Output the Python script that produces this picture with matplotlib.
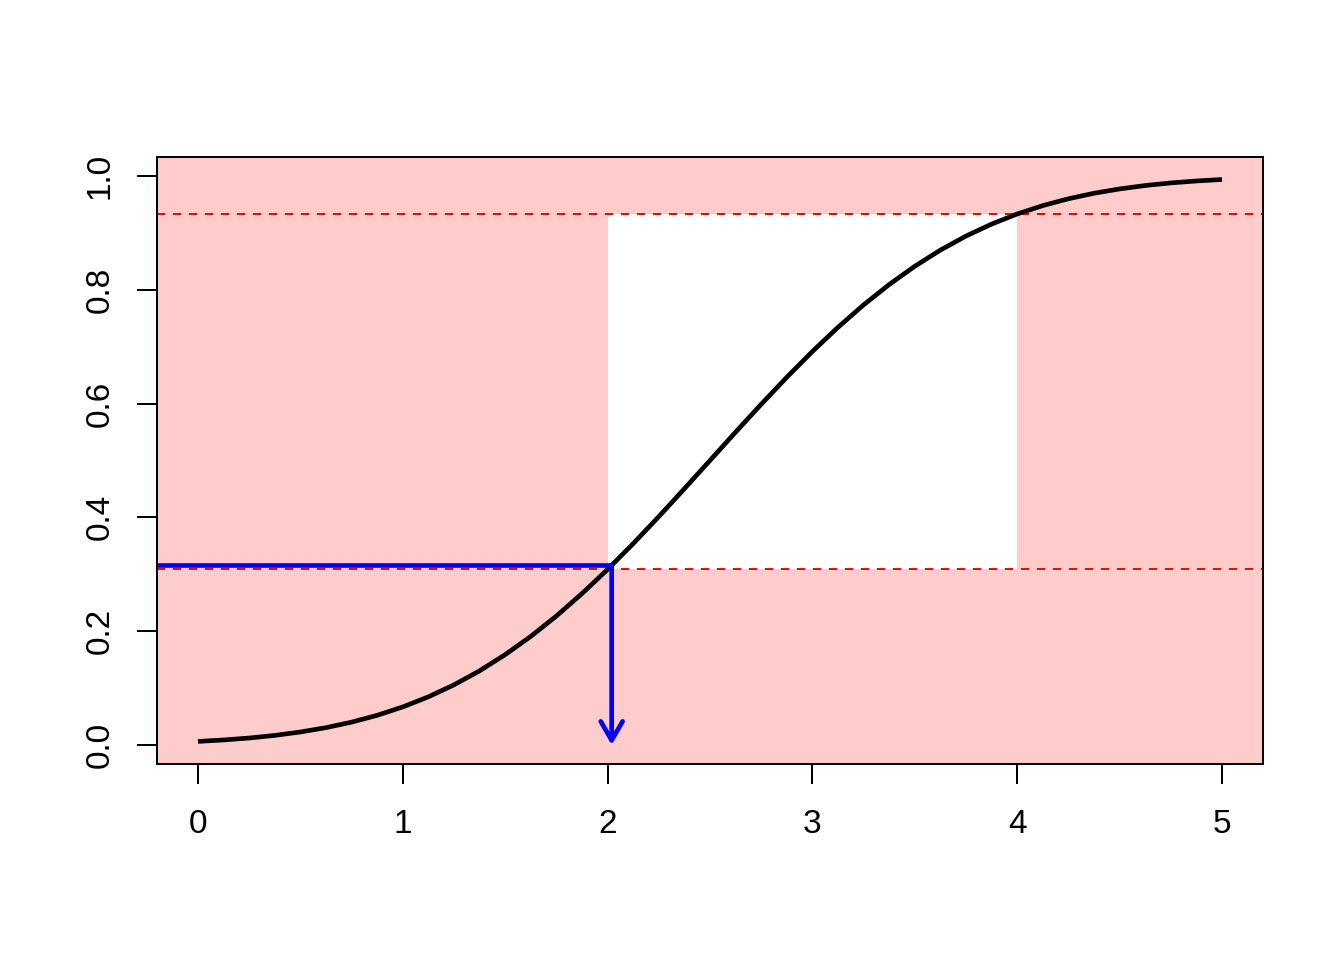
import matplotlib
matplotlib.use("Agg")
import matplotlib.pyplot as plt
from matplotlib.patches import Rectangle

plt.rcParams['font.family'] = ['Liberation Sans', 'DejaVu Sans']

# curve values (x step 0.125)
x_vals = [i * 0.125 for i in range(41)]
y_low = [0.0062, 0.0088, 0.0122, 0.0168, 0.0228, 0.0304, 0.0401, 0.0521,
         0.0668, 0.0846, 0.1056, 0.1303, 0.1587, 0.1908, 0.2266, 0.2660,
         0.3085, 0.3538, 0.4013, 0.4503, 0.5000]
y_vals = y_low + [round(1 - v, 4) for v in reversed(y_low[:-1])]

# interval and quantile levels
x_lo, x_hi = 2.0, 4.0
q_lo, q_hi = 0.3085, 0.9332
# picked point
pt_x, pt_y = 2.02, 0.3156

x_ticks = [0, 1, 2, 3, 4, 5]
y_ticks = [0.0, 0.2, 0.4, 0.6, 0.8, 1.0]

pink = "#FFCCCC"

fig = plt.figure(figsize=(7, 5), dpi=192)
ax = fig.add_axes([0.1168, 0.2042, 0.8229, 0.6323])

ax.set_xlim(-0.2, 5.2)
ax.set_ylim(-0.0334, 1.0334)

ax.set_facecolor(pink)
ax.add_patch(Rectangle((x_lo, q_lo), x_hi - x_lo, q_hi - q_lo,
                       facecolor="white", edgecolor="none", zorder=1))

ax.axhline(q_lo, color="red", lw=0.75, ls=(0, (4, 4)), zorder=2)
ax.axhline(q_hi, color="red", lw=0.75, ls=(0, (4, 4)), zorder=2)

ax.plot(x_vals, y_vals, color="black", lw=1.75, zorder=3,
        solid_capstyle="butt")

ax.plot([-0.5, pt_x], [pt_y, pt_y], color="blue", lw=1.75, zorder=4,
        solid_capstyle="butt")
ax.annotate("", xy=(pt_x, 0), xytext=(pt_x, pt_y),
            arrowprops=dict(arrowstyle="->,head_length=0.71,head_width=0.41",
                            color="blue", lw=1.75, shrinkA=0, shrinkB=0,
                            mutation_scale=10), zorder=4)

ax.set_xticks(x_ticks)
ax.set_xticklabels([str(t) for t in x_ticks])
ax.set_yticks(y_ticks)
ax.set_yticklabels([f"{t:.1f}" for t in y_ticks], rotation=90, va="center")

ax.tick_params(axis="both", direction="out", length=7.5, width=0.75,
               labelsize=12.5, colors="black")
ax.tick_params(axis="x", pad=9.5)
ax.tick_params(axis="y", pad=8)

for sp in ax.spines.values():
    sp.set_linewidth(0.75)
    sp.set_color("black")
    sp.set_zorder(5)

fig.savefig("out.png", dpi=192)
